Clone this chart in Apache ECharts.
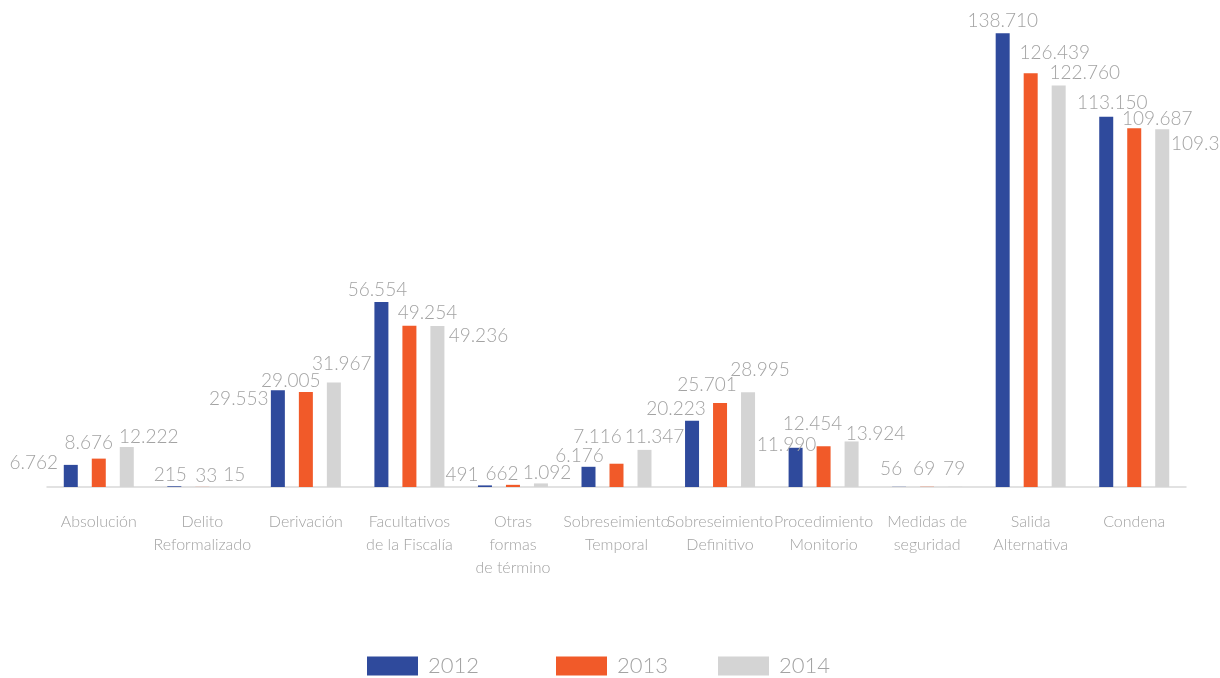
<!DOCTYPE html>
<html>
<head>
<meta charset="utf-8">
<script src="https://cdn.jsdelivr.net/npm/echarts@6/dist/echarts.min.js"></script>
<style>
  html, body { margin: 0; padding: 0; background: #fff; }
  #chart { width: 1220px; height: 678px; }
</style>
</head>
<body>
<div id="chart"></div>
<script>
var categorias = [
	'Absolución',
	'Delito\nReformalizado',
	'Derivación',
	'Facultativos\nde la Fiscalía',
	'Otras\nformas\nde término',
	'Sobreseimiento\nTemporal',
	'Sobreseimiento\nDefinitivo',
	'Procedimiento\nMonitorio',
	'Medidas de\nseguridad',
	'Salida\nAlternativa',
	'Condena'
];
var anios = ['2012', '2013', '2014'];
var datos2012 = [6762, 215, 29553, 56554, 491, 6176, 20223, 11990, 56, 138710, 113150];
var datos2013 = [8676, 33, 29005, 49254, 662, 7116, 25701, 12454, 69, 126439, 109687];
var datos2014 = [12222, 15, 31967, 49236, 1092, 11347, 28995, 13924, 79, 122760, 109323];

// desplazamiento de las etiquetas (como quedaron en el original)
var offsets2012 = [[-37, 12], [-4, 3], [-39, 23], [-4, 2], [-23, 4], [-9, 4], [-16, 3], [-9, 12], [-8, -3], [0, 2], [6, 1]];
var offsets2013 = [[-10, -1], [4, 3], [-15, 3], [18, 2], [-11, 4], [-19, -12], [-13, -4], [-11, -8], [-3, -3], [24, -6], [23, 5]];
var offsets2014 = [[22, 4], [4, 2], [8, -4], [41, 24], [6, 4], [10, 1], [12, -8], [24, 7], [-1, -3], [26, 2], [44, 29]];

var colores = ['#2f4a9c', '#f15a29', '#d4d4d4'];
var leyendaX = [362, 551, 713];

function miles(v) {
	return String(v).replace(/\B(?=(\d{3})+(?!\d))/g, '.');
}

function serie(nombre, valores, offs, color) {
	var items = [];
	for (var i = 0; i < valores.length; i++) {
		items.push({
			value: valores[i],
			label: { offset: offs[i] }
		});
	}
	return {
		name: nombre,
		type: 'bar',
		barWidth: 14,
		barGap: '100%',
		itemStyle: { color: color },
		label: {
			show: true,
			position: 'top',
			distance: 5,
			color: '#a3a3a3',
			fontFamily: 'Lato',
			fontWeight: 300,
			fontSize: 19,
			formatter: function (p) { return miles(p.value); }
		},
		data: items
	};
}

// una leyenda por año, para respetar la separación del original
var leyendas = [];
for (var k = 0; k < anios.length; k++) {
	leyendas.push({
		data: [anios[k]],
		left: leyendaX[k],
		top: 650,
		itemWidth: 51,
		itemHeight: 19,
		icon: 'rect',
		textStyle: {
			color: '#a3a3a3',
			fontFamily: 'Lato',
			fontWeight: 300,
			fontSize: 22,
			padding: [0, 0, 0, 5]
		}
	});
}

var chart = echarts.init(document.getElementById('chart'));
chart.setOption({
	animation: false,
	grid: {
		left: 47,
		right: 34,
		top: 29,
		bottom: 191
	},
	legend: leyendas,
	xAxis: {
		type: 'category',
		data: categorias,
		axisLine: { show: true, lineStyle: { color: '#d9d9d9', width: 1.5 } },
		axisTick: { show: false },
		axisLabel: {
			interval: 0,
			margin: 23,
			color: '#a3a3a3',
			fontFamily: 'Lato',
			fontWeight: 300,
			fontSize: 16,
			lineHeight: 23
		}
	},
	yAxis: {
		type: 'value',
		min: 0,
		max: 140000,
		show: false,
		splitLine: { show: false }
	},
	series: [
		serie(anios[0], datos2012, offsets2012, colores[0]),
		serie(anios[1], datos2013, offsets2013, colores[1]),
		serie(anios[2], datos2014, offsets2014, colores[2])
	]
});
</script>
</body>
</html>
